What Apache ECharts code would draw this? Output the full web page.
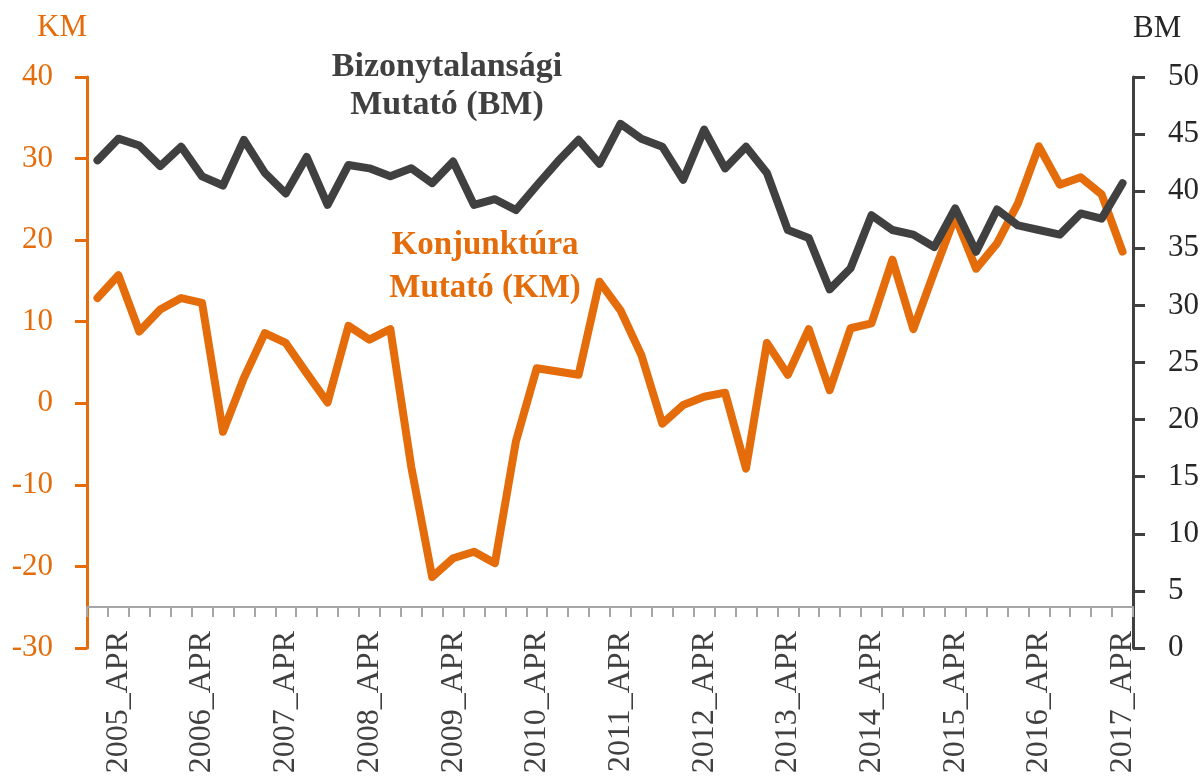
<!DOCTYPE html>
<html>
<head>
<meta charset="utf-8">
<script src="https://cdn.jsdelivr.net/npm/echarts@6/dist/echarts.min.js"></script>
<style>
    html, body { margin: 0; padding: 0; background: #fff; }
    #chart { width: 1203px; height: 778px; }
</style>
</head>
<body>
<div id="chart"></div>
<script>
// negyedéves kategóriák: 2005_JAN ... 2017_APR
var years = [2005, 2006, 2007, 2008, 2009, 2010, 2011, 2012, 2013, 2014, 2015, 2016, 2017];
var months = ['JAN', 'APR', 'JUL', 'OCT'];
var categories = [];
years.forEach(function (y) {
    months.forEach(function (m) {
        if (y === 2017 && (m === 'JUL' || m === 'OCT')) return;
        categories.push(y + '_' + m);
    });
});

// Konjunktúra Mutató (bal tengely)
var kmValues = [
    12.9, 15.7, 8.8, 11.5, 12.9, 12.3, -3.5, 3.1, 8.6, 7.4,
    3.7, 0.1, 9.5, 7.8, 9.1, -7.8, -21.3, -19.0, -18.2, -19.6,
    -4.7, 4.3, 3.9, 3.5, 14.9, 11.4, 5.9, -2.5, -0.2, 0.8,
    1.3, -8.0, 7.4, 3.5, 9.1, 1.6, 9.2, 9.8, 17.6, 9.1,
    16.1, 22.9, 16.5, 19.6, 24.5, 31.5, 26.8, 27.7, 25.6, 18.6
];

// Bizonytalansági Mutató (jobb tengely)
var bmValues = [
    42.7, 44.6, 44.0, 42.2, 43.9, 41.3, 40.5, 44.5, 41.6, 39.8,
    43.0, 38.8, 42.3, 42.0, 41.3, 42.0, 40.7, 42.6, 38.8, 39.3,
    38.35, 40.5, 42.6, 44.5, 42.4, 45.9, 44.6, 43.9, 41.0, 45.4,
    42.0, 43.9, 41.6, 36.6, 35.9, 31.4, 33.25, 37.9, 36.6, 36.2,
    35.1, 38.5, 34.7, 38.4, 37.0, 36.6, 36.2, 38.05, 37.6, 40.7
];

var ORANGE = '#E46C0A';
var GREY = '#404040';
var FONT = '"Liberation Serif", serif';

var myChart = echarts.init(document.getElementById('chart'));
var option = {
    backgroundColor: '#fff',
    animation: false,
    grid: {
        left: 87,
        right: 70,
        top: 77,
        bottom: 130
    },
    xAxis: {
        type: 'category',
        data: categories,
        boundaryGap: true,
        offset: -41,    // a vízszintes tengely -25-nél fut
        axisLine: {
            onZero: false,
            lineStyle: { color: '#A6A6A6', width: 2 }
        },
        axisTick: {
            show: true,
            interval: 0,
            length: 10,
            lineStyle: { color: '#A6A6A6', width: 2 }
        },
        axisLabel: {
            interval: function (index) { return index % 4 === 1; },
            rotate: 90,
            margin: 24,
            fontSize: 32,
            fontFamily: FONT,
            color: GREY
        },
        splitLine: { show: false }
    },
    yAxis: [{
            type: 'value',
            position: 'left',
            min: -30,
            max: 40,
            interval: 10,
            name: 'KM',
            nameLocation: 'end',
            nameGap: 49,
            nameTextStyle: {
                color: ORANGE,
                fontSize: 31,
                fontFamily: FONT,
                align: 'right',
                verticalAlign: 'middle'
            },
            axisLine: { show: true, lineStyle: { color: ORANGE, width: 3 } },
            axisTick: { show: true, length: 12, lineStyle: { color: ORANGE, width: 3 } },
            axisLabel: { margin: 34, fontSize: 31, fontFamily: FONT, color: ORANGE },
            splitLine: { show: false }
        },
        {
            type: 'value',
            position: 'right',
            min: 0,
            max: 50,
            interval: 5,
            name: 'BM',
            nameLocation: 'end',
            nameGap: 48,
            nameTextStyle: {
                color: '#262626',
                fontSize: 31,
                fontFamily: FONT,
                align: 'left',
                verticalAlign: 'middle'
            },
            axisLine: { show: true, lineStyle: { color: GREY, width: 3 } },
            axisTick: { show: true, length: 12, lineStyle: { color: GREY, width: 3 } },
            axisLabel: { margin: 35, fontSize: 31, fontFamily: FONT, color: '#262626' },
            splitLine: { show: false }
        }
    ],
    //sorozat feliratok
    graphic: [{
            type: 'text',
            x: 447,
            y: 86,
            style: {
                text: 'Bizonytalansági\nMutató (BM)',
                align: 'center',
                verticalAlign: 'middle',
                lineHeight: 38,
                font: 'bold 34px ' + FONT,
                fill: GREY
            }
        },
        {
            type: 'text',
            x: 485,
            y: 267,
            style: {
                text: 'Konjunktúra\nMutató (KM)',
                align: 'center',
                verticalAlign: 'middle',
                lineHeight: 43,
                font: 'bold 33px ' + FONT,
                fill: ORANGE
            }
        }
    ],
    series: [{
            name: 'Konjunktúra Mutató (KM)',
            type: 'line',
            yAxisIndex: 0,
            data: kmValues,
            symbol: 'none',
            lineStyle: { color: ORANGE, width: 8, cap: 'round', join: 'round' }
        },
        {
            name: 'Bizonytalansági Mutató (BM)',
            type: 'line',
            yAxisIndex: 1,
            data: bmValues,
            symbol: 'none',
            lineStyle: { color: GREY, width: 8, cap: 'round', join: 'round' }
        }
    ]
};
myChart.setOption(option);
</script>
</body>
</html>
